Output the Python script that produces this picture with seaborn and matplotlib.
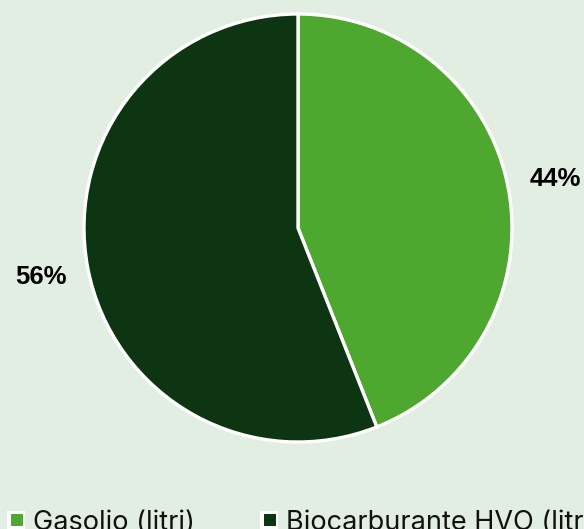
import matplotlib
matplotlib.use("Agg")
import matplotlib.pyplot as plt
import seaborn as sns

# dati
categorie = ["Gasolio (litri)", "Biocarburante HVO (litri)"]
quote = [44, 56]
colori = ["#4EA72E", "#0E3512"]
sfondo = "#E2EEE2"

sns.set_theme(style="white")
plt.rcParams["font.family"] = ["Inter", "DejaVu Sans"]

fig = plt.figure(figsize=(5.84, 5.29), dpi=100, facecolor=sfondo)
ax = fig.add_axes([84 / 584, 87 / 529, 428 / 584, 428 / 529])
ax.set_facecolor(sfondo)

wedges, testi, pct = ax.pie(
    quote,
    colors=colori,
    startangle=90,
    counterclock=False,
    autopct=lambda p: f"{p:.0f}%",
    pctdistance=1.225,
    textprops=dict(fontsize=18.5, fontweight="bold", color="black",
                   family=["Liberation Sans", "DejaVu Sans"]),
    wedgeprops=dict(edgecolor="white", linewidth=2.4),
)
ax.set_aspect("equal")
ax.set_xlim(-1, 1)
ax.set_ylim(-1, 1)

# legenda in basso, tagliata come nell'originale
W, H = 584, 529
pos_quadrato = [7, 260]
for x0, nome, col in zip(pos_quadrato, categorie, colori):
    fig.patches.append(plt.Rectangle((x0 / W, 0), 18 / W, 18 / H,
                                     transform=fig.transFigure, facecolor="white",
                                     edgecolor="none"))
    fig.patches.append(plt.Rectangle(((x0 + 4) / W, 3 / H), 12 / W, 12 / H,
                                     transform=fig.transFigure, facecolor=col,
                                     edgecolor="none"))
    fig.text((x0 + 26) / W, -1 / H, nome, fontsize=19.5, color="#111111",
             ha="left", va="baseline")

fig.savefig("out.png", dpi=100, facecolor=sfondo)
